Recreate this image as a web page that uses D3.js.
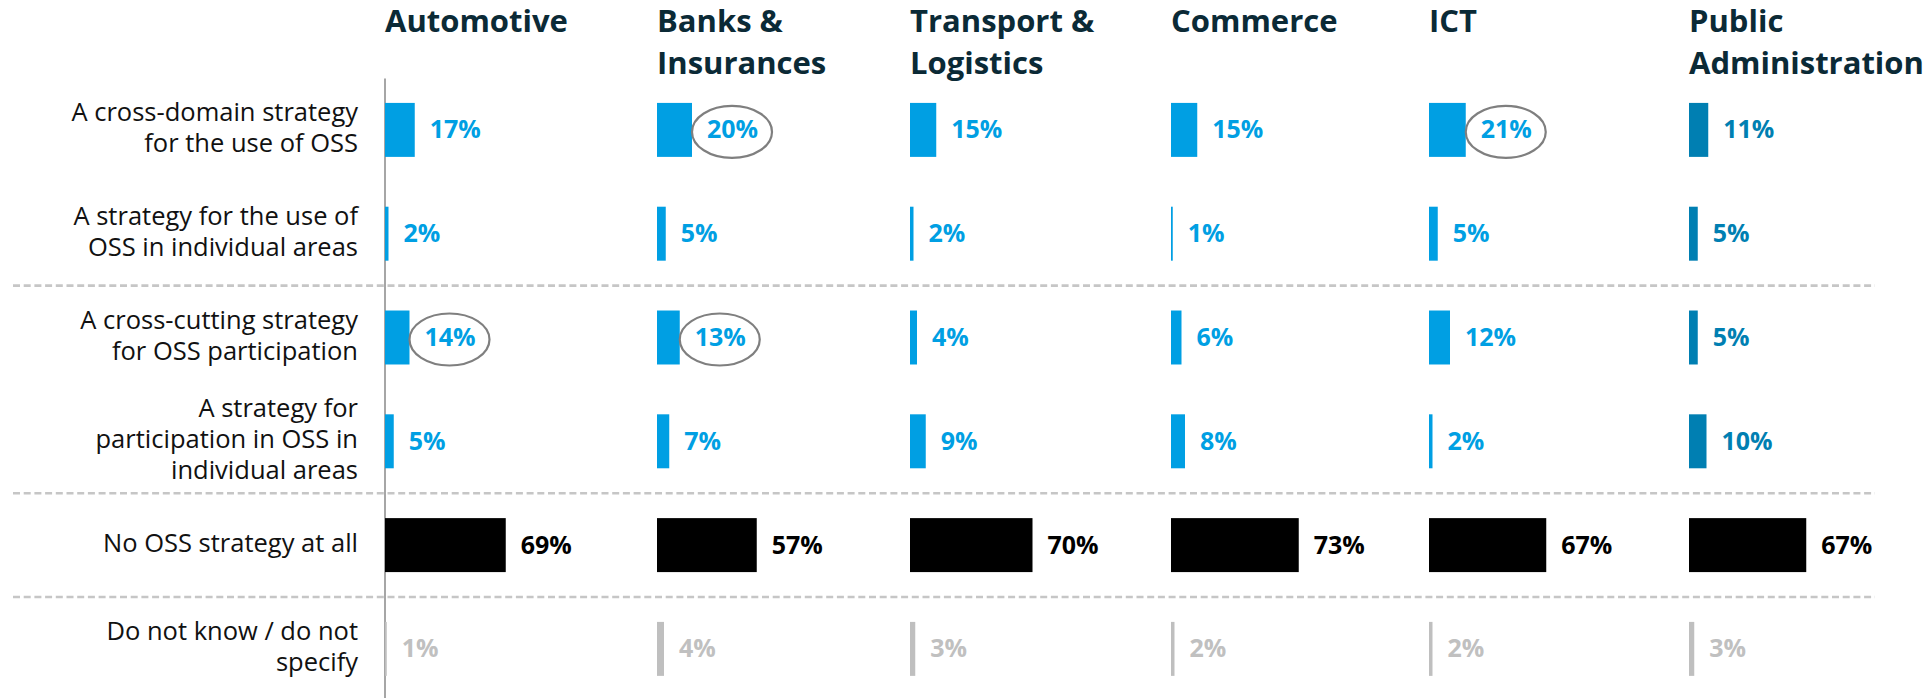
<!DOCTYPE html>
<html>
<head>
<meta charset="utf-8">
<script src="https://cdn.jsdelivr.net/npm/d3@7"></script>
<style>
  body { margin:0; background:#fff; }
  svg { display:block; }
  .title { font-family:"Open Sans", sans-serif; font-weight:700; font-size:31px; fill:#0b2a36; }
  .rowlab { font-family:"Open Sans", sans-serif; font-size:25.5px; fill:#111; }
  .val { font-family:"Open Sans", sans-serif; font-weight:700; font-size:25px; }
</style>
</head>
<body>
<script>
// data
var sectors = ["Automotive", "Banks & Insurances", "Transport & Logistics", "Commerce", "ICT", "Public Administration"],
    sectorLines = [["Automotive"], ["Banks &", "Insurances"], ["Transport &", "Logistics"], ["Commerce"], ["ICT"], ["Public", "Administration"]],
    rows = ["cross-domain", "use-areas", "cross-cutting", "part-areas", "none", "dontknow"],
    rowLines = [
      ["A cross-domain strategy", "for the use of OSS"],
      ["A strategy for the use of", "OSS in individual areas"],
      ["A cross-cutting strategy", "for OSS participation"],
      ["A strategy for", "participation in OSS in", "individual areas"],
      ["No OSS strategy at all"],
      ["Do not know / do not", "specify"]
    ],
    automotive = [17, 2, 14, 5, 69, 1],
    banks      = [20, 5, 13, 7, 57, 4],
    transport  = [15, 2, 4, 9, 70, 3],
    commerce   = [15, 1, 6, 8, 73, 2],
    ict        = [21, 5, 12, 2, 67, 2],
    publicAdm  = [11, 5, 5, 10, 67, 3],
    values = [automotive, banks, transport, commerce, ict, publicAdm],
    // circled answers [sector index, row index]
    circled = [[0, 2], [1, 0], [1, 2], [4, 0]];

// setup
var width = 1932, height = 698,
    svg = d3.select("body").append("svg").attr("width", width).attr("height", height),
    colStart = [385, 657, 910, 1171, 1429, 1689],
    col = d3.scaleOrdinal().domain(sectors).range(colStart),
    y = d3.scaleBand().domain(rows).range([78, 700.8]).paddingInner(0.48).paddingOuter(0.24),
    x = d3.scaleLinear().domain([0, 100]).range([0, 175]);

function barColor(si, ri){
  if(ri == 4) return "#000";
  if(ri == 5) return "#bfbfbf";
  return si == 5 ? "#007fb2" : "#009fe3";
}

// dashed separators
[2, 4, 5].forEach(function(ri){
  var yy = y(rows[ri]) - (y.step() - y.bandwidth()) / 2;
  svg.append("line")
     .attr("x1", 13).attr("x2", 1875)
     .attr("y1", yy).attr("y2", yy)
     .attr("stroke", "#c6c6c6").attr("stroke-width", 2.6)
     .attr("stroke-dasharray", "7,3.7");
});

// axis line
var axisG = svg.append("g").attr("transform", "translate(384.5,0)")
   .call(d3.axisLeft(y).tickSize(0).tickFormat(""));
axisG.select(".domain").attr("stroke", "#888").attr("stroke-width", 1.5);

// row labels
rowLines.forEach(function(lines, ri){
  var c = y(rows[ri]) + y.bandwidth() / 2,
      t = svg.append("text").attr("class", "rowlab").attr("text-anchor", "end");
  lines.forEach(function(l, k){
    t.append("tspan").attr("x", 358)
     .attr("y", c + 7 + (k - (lines.length - 1) / 2) * 31)
     .text(l);
  });
});

// columns
sectors.forEach(function(s, si){
  var x0 = col(s);

  var tt = svg.append("text").attr("class", "title");
  sectorLines[si].forEach(function(l, k){
    tt.append("tspan").attr("x", x0).attr("y", 32 + k * 42).text(l);
  });

  var g = svg.append("g").attr("transform", "translate(" + x0 + ",0)");

  g.selectAll("rect")
   .data(values[si])
   .enter().append("rect")
     .attr("x", 0)
     .attr("y", function(d, i){ return y(rows[i]); })
     .attr("width", function(d){ return x(d); })
     .attr("height", y.bandwidth())
     .attr("fill", function(d, i){ return barColor(si, i); });

  g.selectAll("text.val")
   .data(values[si])
   .enter().append("text")
     .attr("class", "val")
     .attr("x", function(d){ return x(d) + 15; })
     .attr("y", function(d, i){ return y(rows[i]) + y.bandwidth() / 2 + 8.5; })
     .attr("fill", function(d, i){ return i == 5 ? "#c0c0c0" : barColor(si, i); })
     .text(function(d){ return d + "%"; });

  circled.filter(function(c){ return c[0] == si; }).forEach(function(c){
    var v = values[si][c[1]];
    g.append("ellipse")
     .attr("cx", x(v) + 40)
     .attr("cy", y(rows[c[1]]) + y.bandwidth() / 2 + 2)
     .attr("rx", 40).attr("ry", 26)
     .attr("fill", "none").attr("stroke", "#7f7f7f").attr("stroke-width", 2.2);
  });
});
</script>
</body>
</html>
